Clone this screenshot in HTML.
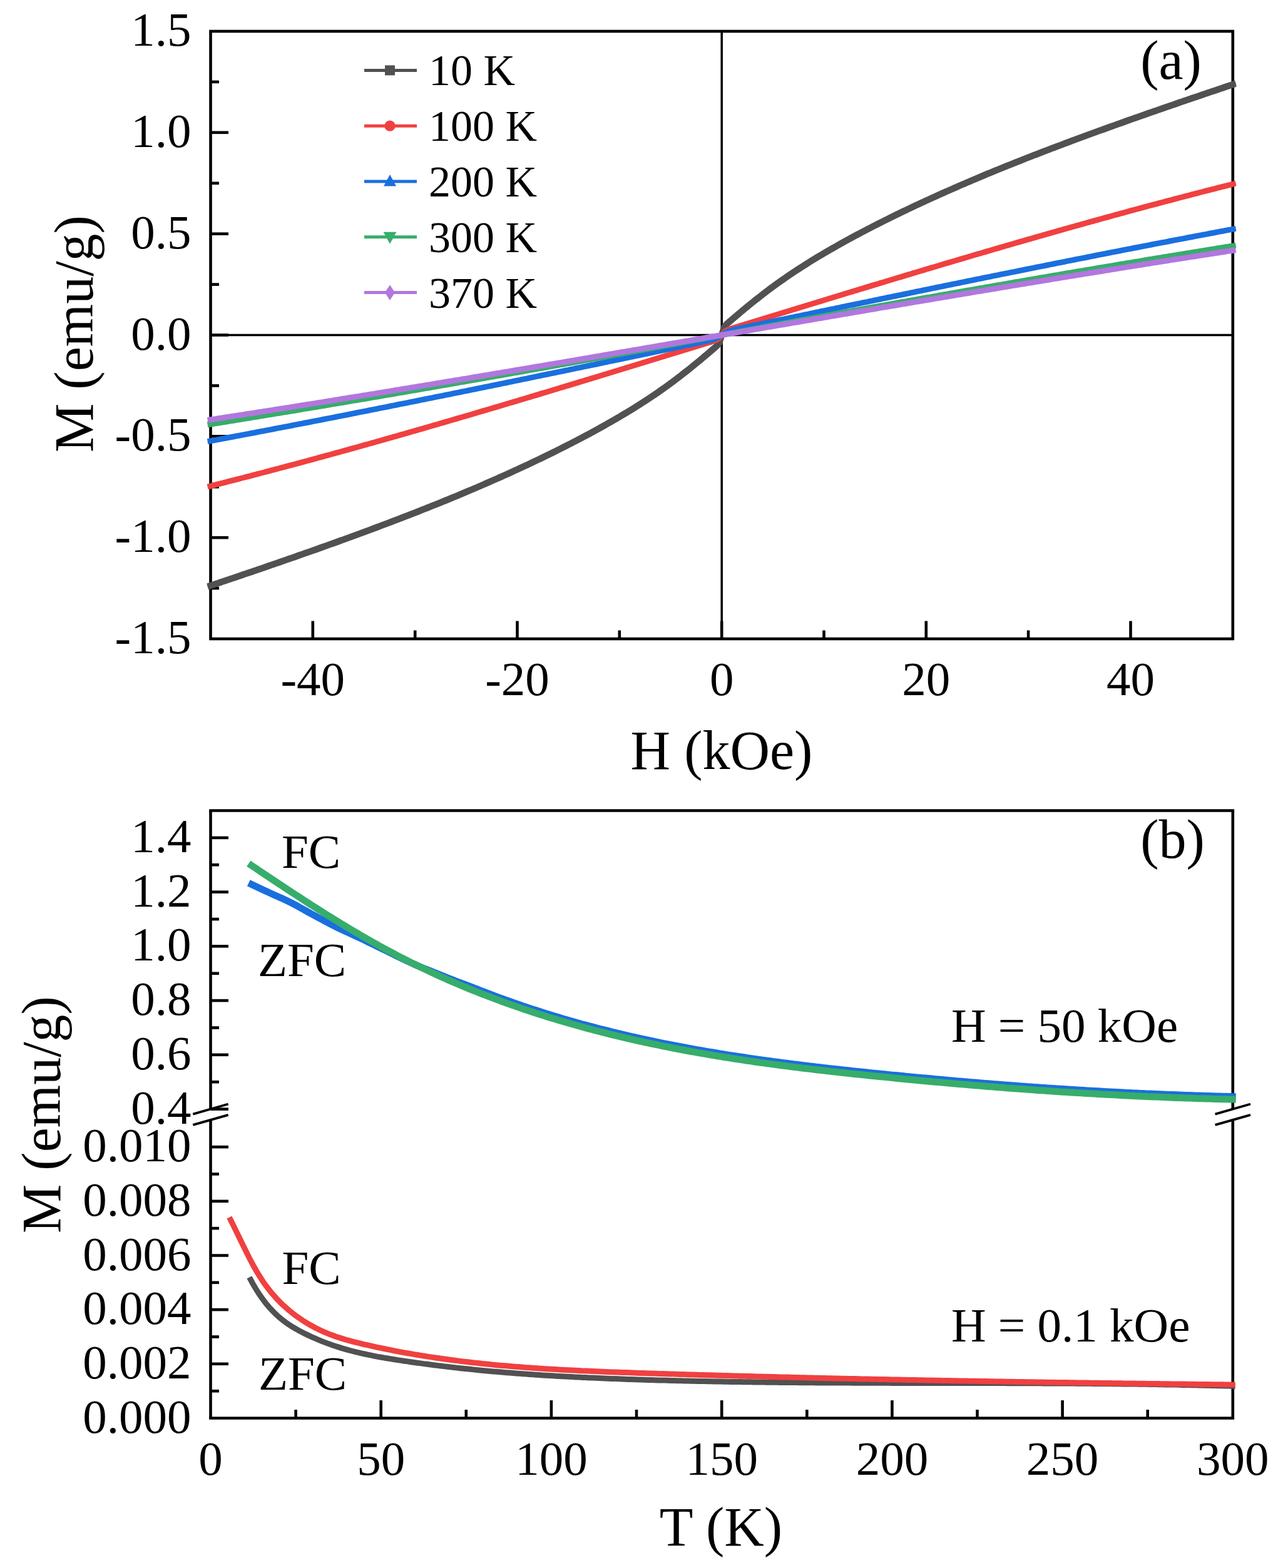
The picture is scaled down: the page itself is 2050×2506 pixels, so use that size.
<!DOCTYPE html>
<html><head><meta charset="utf-8"><title>Magnetization plots</title>
<style>html,body{margin:0;padding:0;background:#fff;}svg{display:block;}</style>
</head><body>
<svg width="2050" height="2506" viewBox="0 0 2050 2506" font-family="'Liberation Serif','Times New Roman',serif">
<rect width="100%" height="100%" fill="#ffffff"/>
<line x1="336.5" y1="535.5" x2="1969.8" y2="535.5" stroke="#000" stroke-width="3.5"/>
<line x1="1153.2" y1="50" x2="1153.2" y2="1021" stroke="#000" stroke-width="3.5"/>
<rect x="336.5" y="50" width="1633.3" height="971" fill="none" stroke="#000" stroke-width="4.6"/>
<line x1="336.5" y1="940.1" x2="350" y2="940.1" stroke="#000" stroke-width="4.6"/>
<line x1="336.5" y1="859.2" x2="365" y2="859.2" stroke="#000" stroke-width="4.6"/>
<line x1="336.5" y1="778.2" x2="350" y2="778.2" stroke="#000" stroke-width="4.6"/>
<line x1="336.5" y1="697.3" x2="365" y2="697.3" stroke="#000" stroke-width="4.6"/>
<line x1="336.5" y1="616.4" x2="350" y2="616.4" stroke="#000" stroke-width="4.6"/>
<line x1="336.5" y1="535.5" x2="365" y2="535.5" stroke="#000" stroke-width="4.6"/>
<line x1="336.5" y1="454.6" x2="350" y2="454.6" stroke="#000" stroke-width="4.6"/>
<line x1="336.5" y1="373.7" x2="365" y2="373.7" stroke="#000" stroke-width="4.6"/>
<line x1="336.5" y1="292.8" x2="350" y2="292.8" stroke="#000" stroke-width="4.6"/>
<line x1="336.5" y1="211.8" x2="365" y2="211.8" stroke="#000" stroke-width="4.6"/>
<line x1="336.5" y1="130.9" x2="350" y2="130.9" stroke="#000" stroke-width="4.6"/>
<line x1="499.8" y1="1021" x2="499.8" y2="992.5" stroke="#000" stroke-width="4.6"/>
<line x1="663.2" y1="1021" x2="663.2" y2="1007.5" stroke="#000" stroke-width="4.6"/>
<line x1="826.5" y1="1021" x2="826.5" y2="992.5" stroke="#000" stroke-width="4.6"/>
<line x1="989.8" y1="1021" x2="989.8" y2="1007.5" stroke="#000" stroke-width="4.6"/>
<line x1="1153.2" y1="1021" x2="1153.2" y2="992.5" stroke="#000" stroke-width="4.6"/>
<line x1="1316.5" y1="1021" x2="1316.5" y2="1007.5" stroke="#000" stroke-width="4.6"/>
<line x1="1479.8" y1="1021" x2="1479.8" y2="992.5" stroke="#000" stroke-width="4.6"/>
<line x1="1643.1" y1="1021" x2="1643.1" y2="1007.5" stroke="#000" stroke-width="4.6"/>
<line x1="1806.5" y1="1021" x2="1806.5" y2="992.5" stroke="#000" stroke-width="4.6"/>
<text x="305.5" y="73" font-size="77" text-anchor="end">1.5</text>
<text x="305.5" y="234.8" font-size="77" text-anchor="end">1.0</text>
<text x="305.5" y="396.7" font-size="77" text-anchor="end">0.5</text>
<text x="305.5" y="558.5" font-size="77" text-anchor="end">0.0</text>
<text x="305.5" y="720.3" font-size="77" text-anchor="end">-0.5</text>
<text x="305.5" y="882.2" font-size="77" text-anchor="end">-1.0</text>
<text x="305.5" y="1044" font-size="77" text-anchor="end">-1.5</text>
<text x="499.8" y="1110.5" font-size="77" text-anchor="middle">-40</text>
<text x="826.5" y="1110.5" font-size="77" text-anchor="middle">-20</text>
<text x="1153.2" y="1110.5" font-size="77" text-anchor="middle">0</text>
<text x="1479.8" y="1110.5" font-size="77" text-anchor="middle">20</text>
<text x="1806.5" y="1110.5" font-size="77" text-anchor="middle">40</text>
<text x="1153" y="1229" font-size="88" text-anchor="middle">H (kOe)</text>
<text transform="translate(147.8,533.5) rotate(-90)" font-size="88" text-anchor="middle">M (emu/g)</text>
<text x="1871" y="125.5" font-size="88" text-anchor="middle">(a)</text>
<line x1="582" y1="112.4" x2="666" y2="112.4" stroke="#515151" stroke-width="5"/>
<rect x="615" y="104.4" width="16" height="16" fill="#515151"/>
<text x="685" y="136.4" font-size="70">10 K</text>
<line x1="582" y1="201.2" x2="666" y2="201.2" stroke="#F14040" stroke-width="5"/>
<circle cx="623" cy="201.2" r="8.6" fill="#F14040"/>
<text x="685" y="225.2" font-size="70">100 K</text>
<line x1="582" y1="290" x2="666" y2="290" stroke="#1A6FDF" stroke-width="5"/>
<polygon points="623,279 613,297.5 633,297.5" fill="#1A6FDF"/>
<text x="685" y="314" font-size="70">200 K</text>
<line x1="582" y1="378.8" x2="666" y2="378.8" stroke="#37AD6B" stroke-width="5"/>
<polygon points="623,389.8 612.5,370.8 633.5,370.8" fill="#37AD6B"/>
<text x="685" y="402.8" font-size="70">300 K</text>
<line x1="582" y1="467.6" x2="666" y2="467.6" stroke="#B177DE" stroke-width="5"/>
<polygon points="623,455.2 631,467.6 623,480 615,467.6" fill="#B177DE"/>
<text x="685" y="491.6" font-size="70">370 K</text>
<g clip-path="url(#clipa)">
<polyline fill="none" stroke="#515151" stroke-width="10.5" stroke-linejoin="round" points="331.6,937.6 335.7,936.3 339.8,934.9 343.9,933.5 347.9,932.2 352,930.8 356.1,929.4 360.2,928 364.3,926.6 368.4,925.3 372.5,923.9 376.6,922.5 380.6,921.1 384.7,919.7 388.8,918.3 392.9,916.9 397,915.5 401.1,914.2 405.2,912.8 409.3,911.4 413.3,910 417.4,908.6 421.5,907.2 425.6,905.8 429.7,904.3 433.8,902.9 437.9,901.5 442,900.1 446,898.7 450.1,897.3 454.2,895.9 458.3,894.4 462.4,893 466.5,891.6 470.6,890.2 474.7,888.7 478.7,887.3 482.8,885.9 486.9,884.4 491,883 495.1,881.6 499.2,880.1 503.3,878.7 507.4,877.2 511.4,875.8 515.5,874.3 519.6,872.9 523.7,871.4 527.8,869.9 531.9,868.5 536,867 540.1,865.5 544.1,864 548.2,862.6 552.3,861.1 556.4,859.6 560.5,858.1 564.6,856.6 568.7,855.1 572.8,853.6 576.8,852.1 580.9,850.6 585,849.1 589.1,847.6 593.2,846.1 597.3,844.5 601.4,843 605.5,841.5 609.5,839.9 613.6,838.4 617.7,836.9 621.8,835.3 625.9,833.8 630,832.2 634.1,830.6 638.1,829.1 642.2,827.5 646.3,825.9 650.4,824.3 654.5,822.8 658.6,821.2 662.7,819.6 666.8,818 670.8,816.4 674.9,814.7 679,813.1 683.1,811.5 687.2,809.9 691.3,808.2 695.4,806.6 699.5,805 703.5,803.3 707.6,801.6 711.7,800 715.8,798.3 719.9,796.6 724,794.9 728.1,793.3 732.2,791.6 736.2,789.9 740.3,788.1 744.4,786.4 748.5,784.7 752.6,783 756.7,781.2 760.8,779.5 764.9,777.7 768.9,776 773,774.2 777.1,772.4 781.2,770.6 785.3,768.8 789.4,767 793.5,765.2 797.6,763.4 801.6,761.6 805.7,759.8 809.8,757.9 813.9,756.1 818,754.2 822.1,752.3 826.2,750.5 830.3,748.6 834.3,746.7 838.4,744.8 842.5,742.9 846.6,741 850.7,739 854.8,737.1 858.9,735.1 863,733.2 867,731.2 871.1,729.2 875.2,727.2 879.3,725.2 883.4,723.2 887.5,721.2 891.6,719.1 895.6,717.1 899.7,715 903.8,713 907.9,710.9 912,708.8 916.1,706.7 920.2,704.6 924.3,702.4 928.3,700.3 932.4,698.1 936.5,696 940.6,693.8 944.7,691.6 948.8,689.3 952.9,687.1 957,684.9 961,682.6 965.1,680.3 969.2,678 973.3,675.7 977.4,673.4 981.5,671 985.6,668.6 989.7,666.2 993.7,663.8 997.8,661.4 1001.9,658.9 1006,656.4 1010.1,653.9 1014.2,651.4 1018.3,648.8 1022.4,646.2 1026.4,643.6 1030.5,641 1034.6,638.3 1038.7,635.6 1042.8,632.9 1046.9,630.1 1051,627.3 1055.1,624.4 1059.1,621.6 1063.2,618.7 1067.3,615.7 1071.4,612.7 1075.5,609.7 1079.6,606.6 1083.7,603.5 1087.8,600.4 1091.8,597.2 1095.9,594 1100,590.8 1104.1,587.5 1108.2,584.2 1112.3,580.8 1116.4,577.5 1120.5,574.1 1124.5,570.6 1128.6,567.2 1132.7,563.7 1136.8,560.2 1140.9,556.7 1145,553.1 1149.1,548.1 1153.2,535.5 1157.2,522.9 1161.3,517.9 1165.4,514.3 1169.5,510.8 1173.6,507.3 1177.7,503.8 1181.8,500.4 1185.8,496.9 1189.9,493.5 1194,490.2 1198.1,486.8 1202.2,483.5 1206.3,480.2 1210.4,477 1214.5,473.8 1218.5,470.6 1222.6,467.5 1226.7,464.4 1230.8,461.3 1234.9,458.3 1239,455.3 1243.1,452.3 1247.2,449.4 1251.2,446.6 1255.3,443.7 1259.4,440.9 1263.5,438.1 1267.6,435.4 1271.7,432.7 1275.8,430 1279.9,427.4 1283.9,424.8 1288,422.2 1292.1,419.6 1296.2,417.1 1300.3,414.6 1304.4,412.1 1308.5,409.6 1312.6,407.2 1316.6,404.8 1320.7,402.4 1324.8,400 1328.9,397.6 1333,395.3 1337.1,393 1341.2,390.7 1345.3,388.4 1349.3,386.1 1353.4,383.9 1357.5,381.7 1361.6,379.4 1365.7,377.2 1369.8,375 1373.9,372.9 1378,370.7 1382,368.6 1386.1,366.4 1390.2,364.3 1394.3,362.2 1398.4,360.1 1402.5,358 1406.6,356 1410.7,353.9 1414.7,351.9 1418.8,349.8 1422.9,347.8 1427,345.8 1431.1,343.8 1435.2,341.8 1439.3,339.8 1443.3,337.8 1447.4,335.9 1451.5,333.9 1455.6,332 1459.7,330 1463.8,328.1 1467.9,326.2 1472,324.3 1476,322.4 1480.1,320.5 1484.2,318.7 1488.3,316.8 1492.4,314.9 1496.5,313.1 1500.6,311.2 1504.7,309.4 1508.7,307.6 1512.8,305.8 1516.9,304 1521,302.2 1525.1,300.4 1529.2,298.6 1533.3,296.8 1537.4,295 1541.4,293.3 1545.5,291.5 1549.6,289.8 1553.7,288 1557.8,286.3 1561.9,284.6 1566,282.9 1570.1,281.1 1574.1,279.4 1578.2,277.7 1582.3,276.1 1586.4,274.4 1590.5,272.7 1594.6,271 1598.7,269.4 1602.8,267.7 1606.8,266 1610.9,264.4 1615,262.8 1619.1,261.1 1623.2,259.5 1627.3,257.9 1631.4,256.3 1635.5,254.6 1639.5,253 1643.6,251.4 1647.7,249.8 1651.8,248.2 1655.9,246.7 1660,245.1 1664.1,243.5 1668.2,241.9 1672.2,240.4 1676.3,238.8 1680.4,237.2 1684.5,235.7 1688.6,234.1 1692.7,232.6 1696.8,231.1 1700.8,229.5 1704.9,228 1709,226.5 1713.1,224.9 1717.2,223.4 1721.3,221.9 1725.4,220.4 1729.5,218.9 1733.5,217.4 1737.6,215.9 1741.7,214.4 1745.8,212.9 1749.9,211.4 1754,209.9 1758.1,208.4 1762.2,207 1766.2,205.5 1770.3,204 1774.4,202.5 1778.5,201.1 1782.6,199.6 1786.7,198.1 1790.8,196.7 1794.9,195.2 1798.9,193.8 1803,192.3 1807.1,190.9 1811.2,189.4 1815.3,188 1819.4,186.6 1823.5,185.1 1827.6,183.7 1831.6,182.3 1835.7,180.8 1839.8,179.4 1843.9,178 1848,176.6 1852.1,175.1 1856.2,173.7 1860.3,172.3 1864.3,170.9 1868.4,169.5 1872.5,168.1 1876.6,166.7 1880.7,165.2 1884.8,163.8 1888.9,162.4 1893,161 1897,159.6 1901.1,158.2 1905.2,156.8 1909.3,155.5 1913.4,154.1 1917.5,152.7 1921.6,151.3 1925.7,149.9 1929.7,148.5 1933.8,147.1 1937.9,145.7 1942,144.4 1946.1,143 1950.2,141.6 1954.3,140.2 1958.4,138.8 1962.4,137.5 1966.5,136.1 1970.6,134.7 1974.7,133.4"/>
<polyline fill="none" stroke="#F14040" stroke-width="9" stroke-linejoin="round" points="331.6,778 335.7,777 339.8,775.9 343.9,774.9 347.9,773.9 352,772.8 356.1,771.8 360.2,770.8 364.3,769.7 368.4,768.7 372.5,767.7 376.6,766.6 380.6,765.6 384.7,764.5 388.8,763.5 392.9,762.4 397,761.3 401.1,760.3 405.2,759.2 409.3,758.2 413.3,757.1 417.4,756 421.5,755 425.6,753.9 429.7,752.8 433.8,751.7 437.9,750.7 442,749.6 446,748.5 450.1,747.4 454.2,746.3 458.3,745.2 462.4,744.2 466.5,743.1 470.6,742 474.7,740.9 478.7,739.8 482.8,738.7 486.9,737.6 491,736.5 495.1,735.4 499.2,734.3 503.3,733.2 507.4,732 511.4,730.9 515.5,729.8 519.6,728.7 523.7,727.6 527.8,726.5 531.9,725.3 536,724.2 540.1,723.1 544.1,722 548.2,720.8 552.3,719.7 556.4,718.6 560.5,717.4 564.6,716.3 568.7,715.2 572.8,714 576.8,712.9 580.9,711.7 585,710.6 589.1,709.5 593.2,708.3 597.3,707.2 601.4,706 605.5,704.9 609.5,703.7 613.6,702.6 617.7,701.4 621.8,700.2 625.9,699.1 630,697.9 634.1,696.8 638.1,695.6 642.2,694.4 646.3,693.3 650.4,692.1 654.5,690.9 658.6,689.7 662.7,688.6 666.8,687.4 670.8,686.2 674.9,685.1 679,683.9 683.1,682.7 687.2,681.5 691.3,680.3 695.4,679.1 699.5,678 703.5,676.8 707.6,675.6 711.7,674.4 715.8,673.2 719.9,672 724,670.8 728.1,669.6 732.2,668.4 736.2,667.2 740.3,666 744.4,664.9 748.5,663.7 752.6,662.5 756.7,661.2 760.8,660 764.9,658.8 768.9,657.6 773,656.4 777.1,655.2 781.2,654 785.3,652.8 789.4,651.6 793.5,650.4 797.6,649.2 801.6,648 805.7,646.7 809.8,645.5 813.9,644.3 818,643.1 822.1,641.9 826.2,640.7 830.3,639.4 834.3,638.2 838.4,637 842.5,635.8 846.6,634.6 850.7,633.3 854.8,632.1 858.9,630.9 863,629.6 867,628.4 871.1,627.2 875.2,626 879.3,624.7 883.4,623.5 887.5,622.3 891.6,621 895.6,619.8 899.7,618.6 903.8,617.3 907.9,616.1 912,614.9 916.1,613.6 920.2,612.4 924.3,611.1 928.3,609.9 932.4,608.7 936.5,607.4 940.6,606.2 944.7,604.9 948.8,603.7 952.9,602.5 957,601.2 961,600 965.1,598.7 969.2,597.5 973.3,596.2 977.4,595 981.5,593.7 985.6,592.5 989.7,591.3 993.7,590 997.8,588.8 1001.9,587.5 1006,586.3 1010.1,585 1014.2,583.8 1018.3,582.5 1022.4,581.3 1026.4,580 1030.5,578.8 1034.6,577.5 1038.7,576.3 1042.8,575 1046.9,573.7 1051,572.5 1055.1,571.2 1059.1,570 1063.2,568.7 1067.3,567.5 1071.4,566.2 1075.5,565 1079.6,563.7 1083.7,562.5 1087.8,561.2 1091.8,559.9 1095.9,558.7 1100,557.4 1104.1,556.2 1108.2,554.9 1112.3,553.7 1116.4,552.4 1120.5,551.2 1124.5,549.9 1128.6,548.6 1132.7,547.4 1136.8,546.1 1140.9,544.8 1145,543.2 1149.1,540.6 1153.2,535.5 1157.2,530.4 1161.3,527.8 1165.4,526.2 1169.5,524.9 1173.6,523.6 1177.7,522.4 1181.8,521.1 1185.8,519.8 1189.9,518.6 1194,517.3 1198.1,516.1 1202.2,514.8 1206.3,513.6 1210.4,512.3 1214.5,511.1 1218.5,509.8 1222.6,508.5 1226.7,507.3 1230.8,506 1234.9,504.8 1239,503.5 1243.1,502.3 1247.2,501 1251.2,499.8 1255.3,498.5 1259.4,497.3 1263.5,496 1267.6,494.7 1271.7,493.5 1275.8,492.2 1279.9,491 1283.9,489.7 1288,488.5 1292.1,487.2 1296.2,486 1300.3,484.7 1304.4,483.5 1308.5,482.2 1312.6,481 1316.6,479.7 1320.7,478.5 1324.8,477.3 1328.9,476 1333,474.8 1337.1,473.5 1341.2,472.3 1345.3,471 1349.3,469.8 1353.4,468.5 1357.5,467.3 1361.6,466.1 1365.7,464.8 1369.8,463.6 1373.9,462.3 1378,461.1 1382,459.9 1386.1,458.6 1390.2,457.4 1394.3,456.1 1398.4,454.9 1402.5,453.7 1406.6,452.4 1410.7,451.2 1414.7,450 1418.8,448.7 1422.9,447.5 1427,446.3 1431.1,445 1435.2,443.8 1439.3,442.6 1443.3,441.4 1447.4,440.1 1451.5,438.9 1455.6,437.7 1459.7,436.4 1463.8,435.2 1467.9,434 1472,432.8 1476,431.6 1480.1,430.3 1484.2,429.1 1488.3,427.9 1492.4,426.7 1496.5,425.5 1500.6,424.3 1504.7,423 1508.7,421.8 1512.8,420.6 1516.9,419.4 1521,418.2 1525.1,417 1529.2,415.8 1533.3,414.6 1537.4,413.4 1541.4,412.2 1545.5,411 1549.6,409.8 1553.7,408.5 1557.8,407.3 1561.9,406.1 1566,405 1570.1,403.8 1574.1,402.6 1578.2,401.4 1582.3,400.2 1586.4,399 1590.5,397.8 1594.6,396.6 1598.7,395.4 1602.8,394.2 1606.8,393 1610.9,391.9 1615,390.7 1619.1,389.5 1623.2,388.3 1627.3,387.1 1631.4,385.9 1635.5,384.8 1639.5,383.6 1643.6,382.4 1647.7,381.3 1651.8,380.1 1655.9,378.9 1660,377.7 1664.1,376.6 1668.2,375.4 1672.2,374.2 1676.3,373.1 1680.4,371.9 1684.5,370.8 1688.6,369.6 1692.7,368.4 1696.8,367.3 1700.8,366.1 1704.9,365 1709,363.8 1713.1,362.7 1717.2,361.5 1721.3,360.4 1725.4,359.3 1729.5,358.1 1733.5,357 1737.6,355.8 1741.7,354.7 1745.8,353.6 1749.9,352.4 1754,351.3 1758.1,350.2 1762.2,349 1766.2,347.9 1770.3,346.8 1774.4,345.7 1778.5,344.5 1782.6,343.4 1786.7,342.3 1790.8,341.2 1794.9,340.1 1798.9,339 1803,337.8 1807.1,336.7 1811.2,335.6 1815.3,334.5 1819.4,333.4 1823.5,332.3 1827.6,331.2 1831.6,330.1 1835.7,329 1839.8,327.9 1843.9,326.8 1848,325.8 1852.1,324.7 1856.2,323.6 1860.3,322.5 1864.3,321.4 1868.4,320.3 1872.5,319.3 1876.6,318.2 1880.7,317.1 1884.8,316 1888.9,315 1893,313.9 1897,312.8 1901.1,311.8 1905.2,310.7 1909.3,309.7 1913.4,308.6 1917.5,307.5 1921.6,306.5 1925.7,305.4 1929.7,304.4 1933.8,303.3 1937.9,302.3 1942,301.3 1946.1,300.2 1950.2,299.2 1954.3,298.2 1958.4,297.1 1962.4,296.1 1966.5,295.1 1970.6,294 1974.7,293"/>
<polyline fill="none" stroke="#1A6FDF" stroke-width="9" stroke-linejoin="round" points="331.6,705.6 335.7,704.9 339.8,704.1 343.9,703.4 347.9,702.6 352,701.8 356.1,701.1 360.2,700.3 364.3,699.5 368.4,698.7 372.5,698 376.6,697.2 380.6,696.4 384.7,695.7 388.8,694.9 392.9,694.1 397,693.3 401.1,692.5 405.2,691.8 409.3,691 413.3,690.2 417.4,689.4 421.5,688.7 425.6,687.9 429.7,687.1 433.8,686.3 437.9,685.5 442,684.7 446,683.9 450.1,683.2 454.2,682.4 458.3,681.6 462.4,680.8 466.5,680 470.6,679.2 474.7,678.4 478.7,677.6 482.8,676.8 486.9,676 491,675.3 495.1,674.5 499.2,673.7 503.3,672.9 507.4,672.1 511.4,671.3 515.5,670.5 519.6,669.7 523.7,668.9 527.8,668.1 531.9,667.3 536,666.5 540.1,665.7 544.1,664.9 548.2,664.1 552.3,663.3 556.4,662.5 560.5,661.6 564.6,660.8 568.7,660 572.8,659.2 576.8,658.4 580.9,657.6 585,656.8 589.1,656 593.2,655.2 597.3,654.4 601.4,653.6 605.5,652.7 609.5,651.9 613.6,651.1 617.7,650.3 621.8,649.5 625.9,648.7 630,647.9 634.1,647 638.1,646.2 642.2,645.4 646.3,644.6 650.4,643.8 654.5,642.9 658.6,642.1 662.7,641.3 666.8,640.5 670.8,639.7 674.9,638.8 679,638 683.1,637.2 687.2,636.4 691.3,635.6 695.4,634.7 699.5,633.9 703.5,633.1 707.6,632.3 711.7,631.4 715.8,630.6 719.9,629.8 724,628.9 728.1,628.1 732.2,627.3 736.2,626.5 740.3,625.6 744.4,624.8 748.5,624 752.6,623.1 756.7,622.3 760.8,621.5 764.9,620.6 768.9,619.8 773,619 777.1,618.1 781.2,617.3 785.3,616.5 789.4,615.6 793.5,614.8 797.6,614 801.6,613.1 805.7,612.3 809.8,611.5 813.9,610.6 818,609.8 822.1,608.9 826.2,608.1 830.3,607.3 834.3,606.4 838.4,605.6 842.5,604.8 846.6,603.9 850.7,603.1 854.8,602.2 858.9,601.4 863,600.5 867,599.7 871.1,598.9 875.2,598 879.3,597.2 883.4,596.3 887.5,595.5 891.6,594.7 895.6,593.8 899.7,593 903.8,592.1 907.9,591.3 912,590.4 916.1,589.6 920.2,588.7 924.3,587.9 928.3,587.1 932.4,586.2 936.5,585.4 940.6,584.5 944.7,583.7 948.8,582.8 952.9,582 957,581.1 961,580.3 965.1,579.4 969.2,578.6 973.3,577.7 977.4,576.9 981.5,576 985.6,575.2 989.7,574.3 993.7,573.5 997.8,572.6 1001.9,571.8 1006,570.9 1010.1,570.1 1014.2,569.2 1018.3,568.4 1022.4,567.5 1026.4,566.7 1030.5,565.8 1034.6,565 1038.7,564.1 1042.8,563.3 1046.9,562.4 1051,561.6 1055.1,560.7 1059.1,559.9 1063.2,559 1067.3,558.2 1071.4,557.3 1075.5,556.5 1079.6,555.6 1083.7,554.8 1087.8,553.9 1091.8,553.1 1095.9,552.2 1100,551.4 1104.1,550.5 1108.2,549.7 1112.3,548.8 1116.4,548 1120.5,547.1 1124.5,546.2 1128.6,545.3 1132.7,544.4 1136.8,543.3 1140.9,542.1 1145,540.4 1149.1,538.2 1153.2,535.5 1157.2,532.8 1161.3,530.6 1165.4,528.9 1169.5,527.7 1173.6,526.6 1177.7,525.7 1181.8,524.8 1185.8,523.9 1189.9,523 1194,522.2 1198.1,521.3 1202.2,520.5 1206.3,519.6 1210.4,518.8 1214.5,517.9 1218.5,517.1 1222.6,516.2 1226.7,515.4 1230.8,514.5 1234.9,513.7 1239,512.8 1243.1,512 1247.2,511.1 1251.2,510.3 1255.3,509.4 1259.4,508.6 1263.5,507.7 1267.6,506.9 1271.7,506 1275.8,505.2 1279.9,504.3 1283.9,503.5 1288,502.6 1292.1,501.8 1296.2,500.9 1300.3,500.1 1304.4,499.2 1308.5,498.4 1312.6,497.5 1316.6,496.7 1320.7,495.8 1324.8,495 1328.9,494.1 1333,493.3 1337.1,492.4 1341.2,491.6 1345.3,490.7 1349.3,489.9 1353.4,489 1357.5,488.2 1361.6,487.3 1365.7,486.5 1369.8,485.6 1373.9,484.8 1378,483.9 1382,483.1 1386.1,482.3 1390.2,481.4 1394.3,480.6 1398.4,479.7 1402.5,478.9 1406.6,478 1410.7,477.2 1414.7,476.3 1418.8,475.5 1422.9,474.7 1427,473.8 1431.1,473 1435.2,472.1 1439.3,471.3 1443.3,470.5 1447.4,469.6 1451.5,468.8 1455.6,467.9 1459.7,467.1 1463.8,466.2 1467.9,465.4 1472,464.6 1476,463.7 1480.1,462.9 1484.2,462.1 1488.3,461.2 1492.4,460.4 1496.5,459.5 1500.6,458.7 1504.7,457.9 1508.7,457 1512.8,456.2 1516.9,455.4 1521,454.5 1525.1,453.7 1529.2,452.9 1533.3,452 1537.4,451.2 1541.4,450.4 1545.5,449.5 1549.6,448.7 1553.7,447.9 1557.8,447 1561.9,446.2 1566,445.4 1570.1,444.5 1574.1,443.7 1578.2,442.9 1582.3,442.1 1586.4,441.2 1590.5,440.4 1594.6,439.6 1598.7,438.7 1602.8,437.9 1606.8,437.1 1610.9,436.3 1615,435.4 1619.1,434.6 1623.2,433.8 1627.3,433 1631.4,432.2 1635.5,431.3 1639.5,430.5 1643.6,429.7 1647.7,428.9 1651.8,428.1 1655.9,427.2 1660,426.4 1664.1,425.6 1668.2,424.8 1672.2,424 1676.3,423.1 1680.4,422.3 1684.5,421.5 1688.6,420.7 1692.7,419.9 1696.8,419.1 1700.8,418.3 1704.9,417.4 1709,416.6 1713.1,415.8 1717.2,415 1721.3,414.2 1725.4,413.4 1729.5,412.6 1733.5,411.8 1737.6,411 1741.7,410.2 1745.8,409.4 1749.9,408.5 1754,407.7 1758.1,406.9 1762.2,406.1 1766.2,405.3 1770.3,404.5 1774.4,403.7 1778.5,402.9 1782.6,402.1 1786.7,401.3 1790.8,400.5 1794.9,399.7 1798.9,398.9 1803,398.1 1807.1,397.3 1811.2,396.5 1815.3,395.7 1819.4,395 1823.5,394.2 1827.6,393.4 1831.6,392.6 1835.7,391.8 1839.8,391 1843.9,390.2 1848,389.4 1852.1,388.6 1856.2,387.8 1860.3,387.1 1864.3,386.3 1868.4,385.5 1872.5,384.7 1876.6,383.9 1880.7,383.1 1884.8,382.3 1888.9,381.6 1893,380.8 1897,380 1901.1,379.2 1905.2,378.5 1909.3,377.7 1913.4,376.9 1917.5,376.1 1921.6,375.3 1925.7,374.6 1929.7,373.8 1933.8,373 1937.9,372.3 1942,371.5 1946.1,370.7 1950.2,369.9 1954.3,369.2 1958.4,368.4 1962.4,367.6 1966.5,366.9 1970.6,366.1 1974.7,365.4"/>
<polyline fill="none" stroke="#37AD6B" stroke-width="9" stroke-linejoin="round" points="331.6,678.8 335.7,678.1 339.8,677.5 343.9,676.8 347.9,676.2 352,675.5 356.1,674.9 360.2,674.2 364.3,673.5 368.4,672.9 372.5,672.2 376.6,671.6 380.6,670.9 384.7,670.2 388.8,669.6 392.9,668.9 397,668.2 401.1,667.6 405.2,666.9 409.3,666.3 413.3,665.6 417.4,664.9 421.5,664.2 425.6,663.6 429.7,662.9 433.8,662.2 437.9,661.6 442,660.9 446,660.2 450.1,659.5 454.2,658.9 458.3,658.2 462.4,657.5 466.5,656.8 470.6,656.2 474.7,655.5 478.7,654.8 482.8,654.1 486.9,653.4 491,652.8 495.1,652.1 499.2,651.4 503.3,650.7 507.4,650 511.4,649.4 515.5,648.7 519.6,648 523.7,647.3 527.8,646.6 531.9,645.9 536,645.2 540.1,644.6 544.1,643.9 548.2,643.2 552.3,642.5 556.4,641.8 560.5,641.1 564.6,640.4 568.7,639.7 572.8,639 576.8,638.3 580.9,637.7 585,637 589.1,636.3 593.2,635.6 597.3,634.9 601.4,634.2 605.5,633.5 609.5,632.8 613.6,632.1 617.7,631.4 621.8,630.7 625.9,630 630,629.3 634.1,628.6 638.1,627.9 642.2,627.2 646.3,626.5 650.4,625.8 654.5,625.1 658.6,624.4 662.7,623.7 666.8,623 670.8,622.3 674.9,621.6 679,620.9 683.1,620.2 687.2,619.5 691.3,618.7 695.4,618 699.5,617.3 703.5,616.6 707.6,615.9 711.7,615.2 715.8,614.5 719.9,613.8 724,613.1 728.1,612.4 732.2,611.7 736.2,610.9 740.3,610.2 744.4,609.5 748.5,608.8 752.6,608.1 756.7,607.4 760.8,606.7 764.9,606 768.9,605.2 773,604.5 777.1,603.8 781.2,603.1 785.3,602.4 789.4,601.7 793.5,600.9 797.6,600.2 801.6,599.5 805.7,598.8 809.8,598.1 813.9,597.4 818,596.6 822.1,595.9 826.2,595.2 830.3,594.5 834.3,593.8 838.4,593 842.5,592.3 846.6,591.6 850.7,590.9 854.8,590.2 858.9,589.4 863,588.7 867,588 871.1,587.3 875.2,586.5 879.3,585.8 883.4,585.1 887.5,584.4 891.6,583.6 895.6,582.9 899.7,582.2 903.8,581.5 907.9,580.7 912,580 916.1,579.3 920.2,578.6 924.3,577.8 928.3,577.1 932.4,576.4 936.5,575.6 940.6,574.9 944.7,574.2 948.8,573.4 952.9,572.7 957,572 961,571.2 965.1,570.5 969.2,569.8 973.3,569 977.4,568.3 981.5,567.6 985.6,566.8 989.7,566.1 993.7,565.3 997.8,564.6 1001.9,563.9 1006,563.1 1010.1,562.4 1014.2,561.6 1018.3,560.9 1022.4,560.1 1026.4,559.4 1030.5,558.6 1034.6,557.9 1038.7,557.1 1042.8,556.4 1046.9,555.6 1051,554.9 1055.1,554.1 1059.1,553.4 1063.2,552.6 1067.3,551.8 1071.4,551.1 1075.5,550.3 1079.6,549.5 1083.7,548.8 1087.8,548 1091.8,547.2 1095.9,546.4 1100,545.7 1104.1,544.9 1108.2,544.1 1112.3,543.3 1116.4,542.6 1120.5,541.8 1124.5,541 1128.6,540.2 1132.7,539.4 1136.8,538.6 1140.9,537.9 1145,537.1 1149.1,536.3 1153.2,535.5 1157.2,534.7 1161.3,533.9 1165.4,533.1 1169.5,532.4 1173.6,531.6 1177.7,530.8 1181.8,530 1185.8,529.2 1189.9,528.4 1194,527.7 1198.1,526.9 1202.2,526.1 1206.3,525.3 1210.4,524.6 1214.5,523.8 1218.5,523 1222.6,522.2 1226.7,521.5 1230.8,520.7 1234.9,519.9 1239,519.2 1243.1,518.4 1247.2,517.6 1251.2,516.9 1255.3,516.1 1259.4,515.4 1263.5,514.6 1267.6,513.9 1271.7,513.1 1275.8,512.4 1279.9,511.6 1283.9,510.9 1288,510.1 1292.1,509.4 1296.2,508.6 1300.3,507.9 1304.4,507.1 1308.5,506.4 1312.6,505.7 1316.6,504.9 1320.7,504.2 1324.8,503.4 1328.9,502.7 1333,502 1337.1,501.2 1341.2,500.5 1345.3,499.8 1349.3,499 1353.4,498.3 1357.5,497.6 1361.6,496.8 1365.7,496.1 1369.8,495.4 1373.9,494.6 1378,493.9 1382,493.2 1386.1,492.4 1390.2,491.7 1394.3,491 1398.4,490.3 1402.5,489.5 1406.6,488.8 1410.7,488.1 1414.7,487.4 1418.8,486.6 1422.9,485.9 1427,485.2 1431.1,484.5 1435.2,483.7 1439.3,483 1443.3,482.3 1447.4,481.6 1451.5,480.8 1455.6,480.1 1459.7,479.4 1463.8,478.7 1467.9,478 1472,477.2 1476,476.5 1480.1,475.8 1484.2,475.1 1488.3,474.4 1492.4,473.6 1496.5,472.9 1500.6,472.2 1504.7,471.5 1508.7,470.8 1512.8,470.1 1516.9,469.3 1521,468.6 1525.1,467.9 1529.2,467.2 1533.3,466.5 1537.4,465.8 1541.4,465 1545.5,464.3 1549.6,463.6 1553.7,462.9 1557.8,462.2 1561.9,461.5 1566,460.8 1570.1,460.1 1574.1,459.3 1578.2,458.6 1582.3,457.9 1586.4,457.2 1590.5,456.5 1594.6,455.8 1598.7,455.1 1602.8,454.4 1606.8,453.7 1610.9,453 1615,452.3 1619.1,451.5 1623.2,450.8 1627.3,450.1 1631.4,449.4 1635.5,448.7 1639.5,448 1643.6,447.3 1647.7,446.6 1651.8,445.9 1655.9,445.2 1660,444.5 1664.1,443.8 1668.2,443.1 1672.2,442.4 1676.3,441.7 1680.4,441 1684.5,440.3 1688.6,439.6 1692.7,438.9 1696.8,438.2 1700.8,437.5 1704.9,436.8 1709,436.1 1713.1,435.4 1717.2,434.7 1721.3,434 1725.4,433.3 1729.5,432.7 1733.5,432 1737.6,431.3 1741.7,430.6 1745.8,429.9 1749.9,429.2 1754,428.5 1758.1,427.8 1762.2,427.1 1766.2,426.4 1770.3,425.8 1774.4,425.1 1778.5,424.4 1782.6,423.7 1786.7,423 1790.8,422.3 1794.9,421.6 1798.9,421 1803,420.3 1807.1,419.6 1811.2,418.9 1815.3,418.2 1819.4,417.6 1823.5,416.9 1827.6,416.2 1831.6,415.5 1835.7,414.8 1839.8,414.2 1843.9,413.5 1848,412.8 1852.1,412.1 1856.2,411.5 1860.3,410.8 1864.3,410.1 1868.4,409.4 1872.5,408.8 1876.6,408.1 1880.7,407.4 1884.8,406.8 1888.9,406.1 1893,405.4 1897,404.7 1901.1,404.1 1905.2,403.4 1909.3,402.8 1913.4,402.1 1917.5,401.4 1921.6,400.8 1925.7,400.1 1929.7,399.4 1933.8,398.8 1937.9,398.1 1942,397.5 1946.1,396.8 1950.2,396.1 1954.3,395.5 1958.4,394.8 1962.4,394.2 1966.5,393.5 1970.6,392.9 1974.7,392.2"/>
<polyline fill="none" stroke="#B177DE" stroke-width="9" stroke-linejoin="round" points="331.6,671.4 335.7,670.8 339.8,670.2 343.9,669.6 347.9,668.9 352,668.3 356.1,667.7 360.2,667 364.3,666.4 368.4,665.8 372.5,665.1 376.6,664.5 380.6,663.9 384.7,663.2 388.8,662.6 392.9,662 397,661.3 401.1,660.7 405.2,660.1 409.3,659.4 413.3,658.8 417.4,658.1 421.5,657.5 425.6,656.9 429.7,656.2 433.8,655.6 437.9,654.9 442,654.3 446,653.6 450.1,653 454.2,652.4 458.3,651.7 462.4,651.1 466.5,650.4 470.6,649.8 474.7,649.1 478.7,648.5 482.8,647.8 486.9,647.2 491,646.5 495.1,645.9 499.2,645.2 503.3,644.6 507.4,643.9 511.4,643.2 515.5,642.6 519.6,641.9 523.7,641.3 527.8,640.6 531.9,640 536,639.3 540.1,638.6 544.1,638 548.2,637.3 552.3,636.7 556.4,636 560.5,635.3 564.6,634.7 568.7,634 572.8,633.4 576.8,632.7 580.9,632 585,631.4 589.1,630.7 593.2,630 597.3,629.4 601.4,628.7 605.5,628 609.5,627.4 613.6,626.7 617.7,626 621.8,625.4 625.9,624.7 630,624 634.1,623.3 638.1,622.7 642.2,622 646.3,621.3 650.4,620.7 654.5,620 658.6,619.3 662.7,618.6 666.8,618 670.8,617.3 674.9,616.6 679,615.9 683.1,615.3 687.2,614.6 691.3,613.9 695.4,613.2 699.5,612.5 703.5,611.9 707.6,611.2 711.7,610.5 715.8,609.8 719.9,609.1 724,608.5 728.1,607.8 732.2,607.1 736.2,606.4 740.3,605.7 744.4,605.1 748.5,604.4 752.6,603.7 756.7,603 760.8,602.3 764.9,601.6 768.9,601 773,600.3 777.1,599.6 781.2,598.9 785.3,598.2 789.4,597.5 793.5,596.8 797.6,596.1 801.6,595.5 805.7,594.8 809.8,594.1 813.9,593.4 818,592.7 822.1,592 826.2,591.3 830.3,590.6 834.3,589.9 838.4,589.3 842.5,588.6 846.6,587.9 850.7,587.2 854.8,586.5 858.9,585.8 863,585.1 867,584.4 871.1,583.7 875.2,583 879.3,582.3 883.4,581.6 887.5,580.9 891.6,580.3 895.6,579.6 899.7,578.9 903.8,578.2 907.9,577.5 912,576.8 916.1,576.1 920.2,575.4 924.3,574.7 928.3,574 932.4,573.3 936.5,572.6 940.6,571.9 944.7,571.2 948.8,570.5 952.9,569.8 957,569.1 961,568.4 965.1,567.7 969.2,567 973.3,566.3 977.4,565.6 981.5,564.9 985.6,564.2 989.7,563.5 993.7,562.8 997.8,562.1 1001.9,561.4 1006,560.7 1010.1,560 1014.2,559.3 1018.3,558.6 1022.4,557.9 1026.4,557.2 1030.5,556.5 1034.6,555.8 1038.7,555.1 1042.8,554.4 1046.9,553.7 1051,553 1055.1,552.3 1059.1,551.6 1063.2,550.9 1067.3,550.2 1071.4,549.5 1075.5,548.8 1079.6,548.1 1083.7,547.4 1087.8,546.7 1091.8,546 1095.9,545.3 1100,544.6 1104.1,543.9 1108.2,543.2 1112.3,542.5 1116.4,541.8 1120.5,541.1 1124.5,540.4 1128.6,539.7 1132.7,539 1136.8,538.3 1140.9,537.6 1145,536.9 1149.1,536.2 1153.2,535.5 1157.2,534.8 1161.3,534.1 1165.4,533.4 1169.5,532.7 1173.6,532 1177.7,531.3 1181.8,530.6 1185.8,529.9 1189.9,529.2 1194,528.5 1198.1,527.8 1202.2,527.1 1206.3,526.4 1210.4,525.7 1214.5,525 1218.5,524.3 1222.6,523.6 1226.7,522.9 1230.8,522.2 1234.9,521.5 1239,520.8 1243.1,520.1 1247.2,519.4 1251.2,518.7 1255.3,518 1259.4,517.3 1263.5,516.6 1267.6,515.9 1271.7,515.2 1275.8,514.5 1279.9,513.8 1283.9,513.1 1288,512.4 1292.1,511.7 1296.2,511 1300.3,510.3 1304.4,509.6 1308.5,508.9 1312.6,508.2 1316.6,507.5 1320.7,506.8 1324.8,506.1 1328.9,505.4 1333,504.7 1337.1,504 1341.2,503.3 1345.3,502.6 1349.3,501.9 1353.4,501.2 1357.5,500.5 1361.6,499.8 1365.7,499.1 1369.8,498.4 1373.9,497.7 1378,497 1382,496.3 1386.1,495.6 1390.2,494.9 1394.3,494.2 1398.4,493.5 1402.5,492.8 1406.6,492.1 1410.7,491.4 1414.7,490.7 1418.8,490.1 1422.9,489.4 1427,488.7 1431.1,488 1435.2,487.3 1439.3,486.6 1443.3,485.9 1447.4,485.2 1451.5,484.5 1455.6,483.8 1459.7,483.1 1463.8,482.4 1467.9,481.7 1472,481.1 1476,480.4 1480.1,479.7 1484.2,479 1488.3,478.3 1492.4,477.6 1496.5,476.9 1500.6,476.2 1504.7,475.5 1508.7,474.9 1512.8,474.2 1516.9,473.5 1521,472.8 1525.1,472.1 1529.2,471.4 1533.3,470.7 1537.4,470 1541.4,469.4 1545.5,468.7 1549.6,468 1553.7,467.3 1557.8,466.6 1561.9,465.9 1566,465.3 1570.1,464.6 1574.1,463.9 1578.2,463.2 1582.3,462.5 1586.4,461.9 1590.5,461.2 1594.6,460.5 1598.7,459.8 1602.8,459.1 1606.8,458.5 1610.9,457.8 1615,457.1 1619.1,456.4 1623.2,455.7 1627.3,455.1 1631.4,454.4 1635.5,453.7 1639.5,453 1643.6,452.4 1647.7,451.7 1651.8,451 1655.9,450.3 1660,449.7 1664.1,449 1668.2,448.3 1672.2,447.7 1676.3,447 1680.4,446.3 1684.5,445.6 1688.6,445 1692.7,444.3 1696.8,443.6 1700.8,443 1704.9,442.3 1709,441.6 1713.1,441 1717.2,440.3 1721.3,439.6 1725.4,439 1729.5,438.3 1733.5,437.6 1737.6,437 1741.7,436.3 1745.8,435.7 1749.9,435 1754,434.3 1758.1,433.7 1762.2,433 1766.2,432.4 1770.3,431.7 1774.4,431 1778.5,430.4 1782.6,429.7 1786.7,429.1 1790.8,428.4 1794.9,427.8 1798.9,427.1 1803,426.4 1807.1,425.8 1811.2,425.1 1815.3,424.5 1819.4,423.8 1823.5,423.2 1827.6,422.5 1831.6,421.9 1835.7,421.2 1839.8,420.6 1843.9,419.9 1848,419.3 1852.1,418.6 1856.2,418 1860.3,417.4 1864.3,416.7 1868.4,416.1 1872.5,415.4 1876.6,414.8 1880.7,414.1 1884.8,413.5 1888.9,412.9 1893,412.2 1897,411.6 1901.1,410.9 1905.2,410.3 1909.3,409.7 1913.4,409 1917.5,408.4 1921.6,407.8 1925.7,407.1 1929.7,406.5 1933.8,405.9 1937.9,405.2 1942,404.6 1946.1,404 1950.2,403.3 1954.3,402.7 1958.4,402.1 1962.4,401.4 1966.5,400.8 1970.6,400.2 1974.7,399.6"/>
</g>
<line x1="334.2" y1="1295.5" x2="1972.1" y2="1295.5" stroke="#000" stroke-width="4.6"/>
<line x1="334.2" y1="2266.5" x2="1972.1" y2="2266.5" stroke="#000" stroke-width="4.6"/>
<line x1="336.5" y1="1295.5" x2="336.5" y2="1772.6" stroke="#000" stroke-width="4.6"/>
<line x1="336.5" y1="1788.7" x2="336.5" y2="2266.5" stroke="#000" stroke-width="4.6"/>
<line x1="1969.8" y1="1295.5" x2="1969.8" y2="1772.6" stroke="#000" stroke-width="4.6"/>
<line x1="1969.8" y1="1788.7" x2="1969.8" y2="2266.5" stroke="#000" stroke-width="4.6"/>
<line x1="308.3" y1="1780.6" x2="364.7" y2="1764.5" stroke="#000" stroke-width="3.8"/>
<line x1="308.3" y1="1797.9" x2="364.7" y2="1781.8" stroke="#000" stroke-width="3.8"/>
<line x1="1941.6" y1="1780.6" x2="1998" y2="1764.5" stroke="#000" stroke-width="3.8"/>
<line x1="1941.6" y1="1797.9" x2="1998" y2="1781.8" stroke="#000" stroke-width="3.8"/>
<line x1="336.5" y1="1772.6" x2="365" y2="1772.6" stroke="#000" stroke-width="4.6"/>
<line x1="336.5" y1="1729.2" x2="350" y2="1729.2" stroke="#000" stroke-width="4.6"/>
<line x1="336.5" y1="1685.8" x2="365" y2="1685.8" stroke="#000" stroke-width="4.6"/>
<line x1="336.5" y1="1642.5" x2="350" y2="1642.5" stroke="#000" stroke-width="4.6"/>
<line x1="336.5" y1="1599.1" x2="365" y2="1599.1" stroke="#000" stroke-width="4.6"/>
<line x1="336.5" y1="1555.7" x2="350" y2="1555.7" stroke="#000" stroke-width="4.6"/>
<line x1="336.5" y1="1512.3" x2="365" y2="1512.3" stroke="#000" stroke-width="4.6"/>
<line x1="336.5" y1="1469" x2="350" y2="1469" stroke="#000" stroke-width="4.6"/>
<line x1="336.5" y1="1425.6" x2="365" y2="1425.6" stroke="#000" stroke-width="4.6"/>
<line x1="336.5" y1="1382.2" x2="350" y2="1382.2" stroke="#000" stroke-width="4.6"/>
<line x1="336.5" y1="1338.9" x2="365" y2="1338.9" stroke="#000" stroke-width="4.6"/>
<line x1="336.5" y1="2223.2" x2="350" y2="2223.2" stroke="#000" stroke-width="4.6"/>
<line x1="336.5" y1="2179.8" x2="365" y2="2179.8" stroke="#000" stroke-width="4.6"/>
<line x1="336.5" y1="2136.5" x2="350" y2="2136.5" stroke="#000" stroke-width="4.6"/>
<line x1="336.5" y1="2093.1" x2="365" y2="2093.1" stroke="#000" stroke-width="4.6"/>
<line x1="336.5" y1="2049.8" x2="350" y2="2049.8" stroke="#000" stroke-width="4.6"/>
<line x1="336.5" y1="2006.5" x2="365" y2="2006.5" stroke="#000" stroke-width="4.6"/>
<line x1="336.5" y1="1963.1" x2="350" y2="1963.1" stroke="#000" stroke-width="4.6"/>
<line x1="336.5" y1="1919.8" x2="365" y2="1919.8" stroke="#000" stroke-width="4.6"/>
<line x1="336.5" y1="1876.4" x2="350" y2="1876.4" stroke="#000" stroke-width="4.6"/>
<line x1="336.5" y1="1833.1" x2="365" y2="1833.1" stroke="#000" stroke-width="4.6"/>
<line x1="472.6" y1="2266.5" x2="472.6" y2="2253" stroke="#000" stroke-width="4.6"/>
<line x1="608.7" y1="2266.5" x2="608.7" y2="2238" stroke="#000" stroke-width="4.6"/>
<line x1="744.8" y1="2266.5" x2="744.8" y2="2253" stroke="#000" stroke-width="4.6"/>
<line x1="880.9" y1="2266.5" x2="880.9" y2="2238" stroke="#000" stroke-width="4.6"/>
<line x1="1017" y1="2266.5" x2="1017" y2="2253" stroke="#000" stroke-width="4.6"/>
<line x1="1153.2" y1="2266.5" x2="1153.2" y2="2238" stroke="#000" stroke-width="4.6"/>
<line x1="1289.3" y1="2266.5" x2="1289.3" y2="2253" stroke="#000" stroke-width="4.6"/>
<line x1="1425.4" y1="2266.5" x2="1425.4" y2="2238" stroke="#000" stroke-width="4.6"/>
<line x1="1561.5" y1="2266.5" x2="1561.5" y2="2253" stroke="#000" stroke-width="4.6"/>
<line x1="1697.6" y1="2266.5" x2="1697.6" y2="2238" stroke="#000" stroke-width="4.6"/>
<line x1="1833.7" y1="2266.5" x2="1833.7" y2="2253" stroke="#000" stroke-width="4.6"/>
<text x="305.5" y="1795.6" font-size="77" text-anchor="end">0.4</text>
<text x="305.5" y="1708.8" font-size="77" text-anchor="end">0.6</text>
<text x="305.5" y="1622.1" font-size="77" text-anchor="end">0.8</text>
<text x="305.5" y="1535.3" font-size="77" text-anchor="end">1.0</text>
<text x="305.5" y="1448.6" font-size="77" text-anchor="end">1.2</text>
<text x="305.5" y="1361.9" font-size="77" text-anchor="end">1.4</text>
<text x="305.5" y="2289.5" font-size="77" text-anchor="end">0.000</text>
<text x="305.5" y="2202.8" font-size="77" text-anchor="end">0.002</text>
<text x="305.5" y="2116.1" font-size="77" text-anchor="end">0.004</text>
<text x="305.5" y="2029.5" font-size="77" text-anchor="end">0.006</text>
<text x="305.5" y="1942.8" font-size="77" text-anchor="end">0.008</text>
<text x="305.5" y="1856.1" font-size="77" text-anchor="end">0.010</text>
<text x="336.5" y="2356.5" font-size="77" text-anchor="middle">0</text>
<text x="608.7" y="2356.5" font-size="77" text-anchor="middle">50</text>
<text x="880.9" y="2356.5" font-size="77" text-anchor="middle">100</text>
<text x="1153.2" y="2356.5" font-size="77" text-anchor="middle">150</text>
<text x="1425.4" y="2356.5" font-size="77" text-anchor="middle">200</text>
<text x="1697.6" y="2356.5" font-size="77" text-anchor="middle">250</text>
<text x="1969.8" y="2356.5" font-size="77" text-anchor="middle">300</text>
<text x="1152" y="2470" font-size="88" text-anchor="middle">T (K)</text>
<text transform="translate(95.7,1781.5) rotate(-90)" font-size="88" text-anchor="middle">M (emu/g)</text>
<text x="1873.5" y="1371.4" font-size="88" text-anchor="middle">(b)</text>
<text x="450" y="1387.4" font-size="77">FC</text>
<text x="412" y="1559.8" font-size="77">ZFC</text>
<text x="450.5" y="2052.3" font-size="77">FC</text>
<text x="413" y="2220.8" font-size="77">ZFC</text>
<text x="1520" y="1664.5" font-size="77">H = 50 kOe</text>
<text x="1520" y="2144.2" font-size="77">H = 0.1 kOe</text>
<g clip-path="url(#clipb)">
<polyline fill="none" stroke="#1A6FDF" stroke-width="11" stroke-linejoin="round" points="397.3,1411.2 402.6,1413.7 407.9,1416.2 413.1,1418.7 418.4,1421.2 423.7,1423.7 429,1426.1 434.2,1428.6 439.5,1431 444.8,1433.3 450.1,1435.6 455.3,1438 460.6,1440.5 465.9,1443.1 471.2,1445.9 476.4,1448.8 481.7,1451.7 487,1454.6 492.3,1457.6 497.5,1460.5 502.8,1463.3 508.1,1466.2 513.4,1469 518.7,1471.8 523.9,1474.6 529.2,1477.4 534.5,1480.1 539.8,1482.7 545,1485.3 550.3,1487.7 555.6,1490.1 560.9,1492.6 566.1,1495 571.4,1497.4 576.7,1499.9 582,1502.4 587.2,1505 592.5,1507.6 597.8,1510.1 603.1,1512.7 608.3,1515.2 613.6,1517.8 618.9,1520.4 624.2,1523 629.4,1525.6 634.7,1528.2 640,1530.8 645.3,1533.4 650.5,1535.9 655.8,1538.4 661.1,1540.8 666.4,1543.1 671.6,1545.3 676.9,1547.5 682.2,1549.6 687.5,1551.7 692.7,1553.8 698,1555.9 703.3,1558.1 708.6,1560.2 713.8,1562.3 719.1,1564.4 724.4,1566.4 729.7,1568.5 734.9,1570.5 740.2,1572.5 745.5,1574.5 750.8,1576.5 756,1578.5 761.3,1580.5 766.6,1582.6 771.9,1584.6 777.2,1586.7 782.4,1588.7 787.7,1590.7 793,1592.7 798.3,1594.6 803.5,1596.5 808.8,1598.4 814.1,1600.3 819.4,1602.2 824.6,1604 829.9,1605.8 835.2,1607.6 840.5,1609.4 845.7,1611.2 851,1612.9 856.3,1614.6 861.6,1616.3 866.8,1618 872.1,1619.7 877.4,1621.3 882.7,1622.9 887.9,1624.5 893.2,1626.1 898.5,1627.7 903.8,1629.2 909,1630.8 914.3,1632.3 919.6,1633.8 924.9,1635.2 930.1,1636.7 935.4,1638.1 940.7,1639.5 946,1640.9 951.2,1642.3 956.5,1643.7 961.8,1645.1 967.1,1646.4 972.3,1647.7 977.6,1649 982.9,1650.3 988.2,1651.6 993.4,1652.8 998.7,1654.1 1004,1655.3 1009.3,1656.5 1014.6,1657.7 1019.8,1658.9 1025.1,1660.1 1030.4,1661.2 1035.7,1662.4 1040.9,1663.5 1046.2,1664.6 1051.5,1665.7 1056.8,1666.8 1062,1667.8 1067.3,1668.9 1072.6,1669.9 1077.9,1671 1083.1,1672 1088.4,1673 1093.7,1674 1099,1674.9 1104.2,1675.9 1109.5,1676.9 1114.8,1677.8 1120.1,1678.7 1125.3,1679.7 1130.6,1680.6 1135.9,1681.5 1141.2,1682.3 1146.4,1683.2 1151.7,1684.1 1157,1684.9 1162.3,1685.8 1167.5,1686.6 1172.8,1687.4 1178.1,1688.2 1183.4,1689 1188.6,1689.8 1193.9,1690.6 1199.2,1691.4 1204.5,1692.2 1209.7,1692.9 1215,1693.7 1220.3,1694.4 1225.6,1695.1 1230.8,1695.8 1236.1,1696.6 1241.4,1697.3 1246.7,1698 1252,1698.6 1257.2,1699.3 1262.5,1700 1267.8,1700.7 1273.1,1701.3 1278.3,1702 1283.6,1702.6 1288.9,1703.3 1294.2,1703.9 1299.4,1704.5 1304.7,1705.1 1310,1705.8 1315.3,1706.4 1320.5,1707 1325.8,1707.6 1331.1,1708.2 1336.4,1708.7 1341.6,1709.3 1346.9,1709.9 1352.2,1710.5 1357.5,1711 1362.7,1711.6 1368,1712.2 1373.3,1712.7 1378.6,1713.3 1383.8,1713.8 1389.1,1714.4 1394.4,1714.9 1399.7,1715.4 1404.9,1716 1410.2,1716.5 1415.5,1717 1420.8,1717.6 1426,1718.1 1431.3,1718.6 1436.6,1719.1 1441.9,1719.6 1447.1,1720.2 1452.4,1720.7 1457.7,1721.2 1463,1721.7 1468.2,1722.2 1473.5,1722.7 1478.8,1723.1 1484.1,1723.6 1489.4,1724.1 1494.6,1724.6 1499.9,1725.1 1505.2,1725.6 1510.5,1726 1515.7,1726.5 1521,1727 1526.3,1727.4 1531.6,1727.9 1536.8,1728.3 1542.1,1728.8 1547.4,1729.2 1552.7,1729.7 1557.9,1730.1 1563.2,1730.5 1568.5,1731 1573.8,1731.4 1579,1731.8 1584.3,1732.3 1589.6,1732.7 1594.9,1733.1 1600.1,1733.5 1605.4,1733.9 1610.7,1734.3 1616,1734.7 1621.2,1735.1 1626.5,1735.5 1631.8,1735.9 1637.1,1736.3 1642.3,1736.7 1647.6,1737.1 1652.9,1737.4 1658.2,1737.8 1663.4,1738.2 1668.7,1738.5 1674,1738.9 1679.3,1739.3 1684.5,1739.6 1689.8,1740 1695.1,1740.3 1700.4,1740.6 1705.6,1741 1710.9,1741.3 1716.2,1741.6 1721.5,1742 1726.7,1742.3 1732,1742.6 1737.3,1742.9 1742.6,1743.2 1747.9,1743.5 1753.1,1743.8 1758.4,1744.1 1763.7,1744.4 1769,1744.7 1774.2,1745 1779.5,1745.3 1784.8,1745.6 1790.1,1745.8 1795.3,1746.1 1800.6,1746.4 1805.9,1746.6 1811.2,1746.9 1816.4,1747.1 1821.7,1747.4 1827,1747.6 1832.3,1747.9 1837.5,1748.1 1842.8,1748.3 1848.1,1748.6 1853.4,1748.8 1858.6,1749 1863.9,1749.2 1869.2,1749.4 1874.5,1749.6 1879.7,1749.8 1885,1750 1890.3,1750.2 1895.6,1750.4 1900.8,1750.6 1906.1,1750.8 1911.4,1750.9 1916.7,1751.1 1921.9,1751.3 1927.2,1751.4 1932.5,1751.6 1937.8,1751.7 1943,1751.9 1948.3,1752 1953.6,1752.2 1958.9,1752.3 1964.1,1752.4 1969.4,1752.5 1974.7,1752.7"/>
<polyline fill="none" stroke="#37AD6B" stroke-width="11" stroke-linejoin="round" points="397.3,1380.1 402.6,1383.7 407.9,1387.2 413.1,1390.8 418.4,1394.3 423.7,1397.9 429,1401.4 434.2,1404.9 439.5,1408.4 444.8,1411.9 450.1,1415.4 455.3,1418.9 460.6,1422.4 465.9,1425.9 471.2,1429.3 476.4,1432.7 481.7,1436.2 487,1439.6 492.3,1443 497.5,1446.4 502.8,1449.7 508.1,1453.1 513.4,1456.4 518.7,1459.8 523.9,1463.1 529.2,1466.3 534.5,1469.6 539.8,1472.8 545,1476.1 550.3,1479.3 555.6,1482.4 560.9,1485.6 566.1,1488.7 571.4,1491.8 576.7,1494.9 582,1498 587.2,1501 592.5,1504 597.8,1507 603.1,1509.9 608.3,1512.9 613.6,1515.8 618.9,1518.6 624.2,1521.4 629.4,1524.2 634.7,1527 640,1529.8 645.3,1532.5 650.5,1535.1 655.8,1537.8 661.1,1540.4 666.4,1543 671.6,1545.6 676.9,1548.1 682.2,1550.6 687.5,1553.1 692.7,1555.5 698,1558 703.3,1560.4 708.6,1562.7 713.8,1565.1 719.1,1567.4 724.4,1569.7 729.7,1572 734.9,1574.2 740.2,1576.4 745.5,1578.6 750.8,1580.8 756,1582.9 761.3,1585 766.6,1587.1 771.9,1589.2 777.2,1591.2 782.4,1593.2 787.7,1595.2 793,1597.2 798.3,1599.2 803.5,1601.1 808.8,1603 814.1,1604.9 819.4,1606.7 824.6,1608.6 829.9,1610.4 835.2,1612.2 840.5,1614 845.7,1615.7 851,1617.5 856.3,1619.2 861.6,1620.9 866.8,1622.6 872.1,1624.2 877.4,1625.9 882.7,1627.5 887.9,1629.1 893.2,1630.7 898.5,1632.2 903.8,1633.8 909,1635.3 914.3,1636.8 919.6,1638.3 924.9,1639.8 930.1,1641.2 935.4,1642.7 940.7,1644.1 946,1645.5 951.2,1646.9 956.5,1648.3 961.8,1649.6 967.1,1650.9 972.3,1652.3 977.6,1653.6 982.9,1654.9 988.2,1656.1 993.4,1657.4 998.7,1658.6 1004,1659.9 1009.3,1661.1 1014.6,1662.3 1019.8,1663.5 1025.1,1664.6 1030.4,1665.8 1035.7,1666.9 1040.9,1668 1046.2,1669.1 1051.5,1670.2 1056.8,1671.3 1062,1672.4 1067.3,1673.4 1072.6,1674.5 1077.9,1675.5 1083.1,1676.5 1088.4,1677.5 1093.7,1678.5 1099,1679.5 1104.2,1680.5 1109.5,1681.4 1114.8,1682.4 1120.1,1683.3 1125.3,1684.2 1130.6,1685.1 1135.9,1686 1141.2,1686.9 1146.4,1687.8 1151.7,1688.6 1157,1689.5 1162.3,1690.3 1167.5,1691.2 1172.8,1692 1178.1,1692.8 1183.4,1693.6 1188.6,1694.4 1193.9,1695.2 1199.2,1695.9 1204.5,1696.7 1209.7,1697.5 1215,1698.2 1220.3,1698.9 1225.6,1699.7 1230.8,1700.4 1236.1,1701.1 1241.4,1701.8 1246.7,1702.5 1252,1703.2 1257.2,1703.9 1262.5,1704.6 1267.8,1705.2 1273.1,1705.9 1278.3,1706.5 1283.6,1707.2 1288.9,1707.8 1294.2,1708.4 1299.4,1709.1 1304.7,1709.7 1310,1710.3 1315.3,1710.9 1320.5,1711.5 1325.8,1712.1 1331.1,1712.7 1336.4,1713.3 1341.6,1713.9 1346.9,1714.5 1352.2,1715 1357.5,1715.6 1362.7,1716.2 1368,1716.7 1373.3,1717.3 1378.6,1717.8 1383.8,1718.4 1389.1,1718.9 1394.4,1719.5 1399.7,1720 1404.9,1720.5 1410.2,1721.1 1415.5,1721.6 1420.8,1722.1 1426,1722.6 1431.3,1723.2 1436.6,1723.7 1441.9,1724.2 1447.1,1724.7 1452.4,1725.2 1457.7,1725.7 1463,1726.2 1468.2,1726.7 1473.5,1727.2 1478.8,1727.7 1484.1,1728.2 1489.4,1728.7 1494.6,1729.2 1499.9,1729.6 1505.2,1730.1 1510.5,1730.6 1515.7,1731 1521,1731.5 1526.3,1732 1531.6,1732.4 1536.8,1732.9 1542.1,1733.3 1547.4,1733.8 1552.7,1734.2 1557.9,1734.7 1563.2,1735.1 1568.5,1735.5 1573.8,1736 1579,1736.4 1584.3,1736.8 1589.6,1737.2 1594.9,1737.7 1600.1,1738.1 1605.4,1738.5 1610.7,1738.9 1616,1739.3 1621.2,1739.7 1626.5,1740.1 1631.8,1740.5 1637.1,1740.8 1642.3,1741.2 1647.6,1741.6 1652.9,1742 1658.2,1742.4 1663.4,1742.7 1668.7,1743.1 1674,1743.5 1679.3,1743.8 1684.5,1744.2 1689.8,1744.5 1695.1,1744.9 1700.4,1745.2 1705.6,1745.5 1710.9,1745.9 1716.2,1746.2 1721.5,1746.5 1726.7,1746.8 1732,1747.2 1737.3,1747.5 1742.6,1747.8 1747.9,1748.1 1753.1,1748.4 1758.4,1748.7 1763.7,1749 1769,1749.3 1774.2,1749.6 1779.5,1749.8 1784.8,1750.1 1790.1,1750.4 1795.3,1750.7 1800.6,1750.9 1805.9,1751.2 1811.2,1751.4 1816.4,1751.7 1821.7,1751.9 1827,1752.2 1832.3,1752.4 1837.5,1752.7 1842.8,1752.9 1848.1,1753.1 1853.4,1753.3 1858.6,1753.6 1863.9,1753.8 1869.2,1754 1874.5,1754.2 1879.7,1754.4 1885,1754.6 1890.3,1754.8 1895.6,1755 1900.8,1755.1 1906.1,1755.3 1911.4,1755.5 1916.7,1755.7 1921.9,1755.8 1927.2,1756 1932.5,1756.1 1937.8,1756.3 1943,1756.4 1948.3,1756.6 1953.6,1756.7 1958.9,1756.8 1964.1,1757 1969.4,1757.1 1974.7,1757.2"/>
<polyline fill="none" stroke="#515151" stroke-width="9" stroke-linejoin="round" points="398.4,2041.4 403.7,2051.2 408.9,2060.1 414.2,2068.4 419.5,2075.9 424.7,2082.8 430,2089.2 435.3,2094.9 440.5,2100.2 445.8,2105 451.1,2109.3 456.4,2113.3 461.6,2117 466.9,2120.4 472.2,2123.5 477.4,2126.4 482.7,2129.2 488,2131.9 493.2,2134.4 498.5,2136.9 503.8,2139.2 509,2141.4 514.3,2143.6 519.6,2145.6 524.8,2147.6 530.1,2149.4 535.4,2151.2 540.6,2152.9 545.9,2154.6 551.2,2156.1 556.4,2157.6 561.7,2159 567,2160.3 572.3,2161.6 577.5,2162.9 582.8,2164 588.1,2165.2 593.3,2166.2 598.6,2167.3 603.9,2168.3 609.1,2169.2 614.4,2170.2 619.7,2171 624.9,2171.9 630.2,2172.8 635.5,2173.6 640.7,2174.4 646,2175.2 651.3,2175.9 656.5,2176.7 661.8,2177.5 667.1,2178.2 672.4,2178.9 677.6,2179.6 682.9,2180.3 688.2,2181 693.4,2181.7 698.7,2182.4 704,2183 709.2,2183.6 714.5,2184.3 719.8,2184.9 725,2185.5 730.3,2186.1 735.6,2186.7 740.8,2187.2 746.1,2187.8 751.4,2188.3 756.6,2188.9 761.9,2189.4 767.2,2189.9 772.4,2190.4 777.7,2190.9 783,2191.4 788.3,2191.9 793.5,2192.3 798.8,2192.8 804.1,2193.2 809.3,2193.7 814.6,2194.1 819.9,2194.5 825.1,2194.9 830.4,2195.3 835.7,2195.7 840.9,2196.1 846.2,2196.5 851.5,2196.8 856.7,2197.2 862,2197.5 867.3,2197.9 872.5,2198.2 877.8,2198.5 883.1,2198.8 888.4,2199.2 893.6,2199.5 898.9,2199.8 904.2,2200 909.4,2200.3 914.7,2200.6 920,2200.9 925.2,2201.1 930.5,2201.4 935.8,2201.6 941,2201.9 946.3,2202.1 951.6,2202.3 956.8,2202.6 962.1,2202.8 967.4,2203 972.6,2203.2 977.9,2203.4 983.2,2203.6 988.4,2203.8 993.7,2204 999,2204.2 1004.3,2204.4 1009.5,2204.6 1014.8,2204.7 1020.1,2204.9 1025.3,2205.1 1030.6,2205.2 1035.9,2205.4 1041.1,2205.5 1046.4,2205.7 1051.7,2205.9 1056.9,2206 1062.2,2206.1 1067.5,2206.3 1072.7,2206.4 1078,2206.5 1083.3,2206.7 1088.5,2206.8 1093.8,2206.9 1099.1,2207 1104.3,2207.2 1109.6,2207.3 1114.9,2207.4 1120.2,2207.5 1125.4,2207.6 1130.7,2207.7 1136,2207.8 1141.2,2207.9 1146.5,2208 1151.8,2208.1 1157,2208.2 1162.3,2208.3 1167.6,2208.4 1172.8,2208.5 1178.1,2208.5 1183.4,2208.6 1188.6,2208.7 1193.9,2208.8 1199.2,2208.8 1204.4,2208.9 1209.7,2209 1215,2209 1220.3,2209.1 1225.5,2209.2 1230.8,2209.2 1236.1,2209.3 1241.3,2209.3 1246.6,2209.4 1251.9,2209.4 1257.1,2209.5 1262.4,2209.5 1267.7,2209.6 1272.9,2209.6 1278.2,2209.7 1283.5,2209.7 1288.7,2209.8 1294,2209.8 1299.3,2209.8 1304.5,2209.9 1309.8,2209.9 1315.1,2209.9 1320.3,2210 1325.6,2210 1330.9,2210 1336.2,2210 1341.4,2210.1 1346.7,2210.1 1352,2210.1 1357.2,2210.1 1362.5,2210.2 1367.8,2210.2 1373,2210.2 1378.3,2210.2 1383.6,2210.2 1388.8,2210.3 1394.1,2210.3 1399.4,2210.3 1404.6,2210.3 1409.9,2210.3 1415.2,2210.3 1420.4,2210.3 1425.7,2210.4 1431,2210.4 1436.2,2210.4 1441.5,2210.4 1446.8,2210.4 1452.1,2210.4 1457.3,2210.4 1462.6,2210.4 1467.9,2210.4 1473.1,2210.4 1478.4,2210.4 1483.7,2210.4 1488.9,2210.5 1494.2,2210.5 1499.5,2210.5 1504.7,2210.5 1510,2210.5 1515.3,2210.5 1520.5,2210.5 1525.8,2210.5 1531.1,2210.5 1536.3,2210.5 1541.6,2210.5 1546.9,2210.5 1552.2,2210.5 1557.4,2210.5 1562.7,2210.6 1568,2210.6 1573.2,2210.6 1578.5,2210.6 1583.8,2210.6 1589,2210.6 1594.3,2210.6 1599.6,2210.6 1604.8,2210.6 1610.1,2210.7 1615.4,2210.7 1620.6,2210.7 1625.9,2210.7 1631.2,2210.7 1636.4,2210.7 1641.7,2210.8 1647,2210.8 1652.2,2210.8 1657.5,2210.8 1662.8,2210.8 1668.1,2210.9 1673.3,2210.9 1678.6,2210.9 1683.9,2210.9 1689.1,2211 1694.4,2211 1699.7,2211 1704.9,2211.1 1710.2,2211.1 1715.5,2211.1 1720.7,2211.2 1726,2211.2 1731.3,2211.2 1736.5,2211.3 1741.8,2211.3 1747.1,2211.4 1752.3,2211.4 1757.6,2211.5 1762.9,2211.5 1768.1,2211.6 1773.4,2211.6 1778.7,2211.7 1784,2211.7 1789.2,2211.8 1794.5,2211.9 1799.8,2211.9 1805,2212 1810.3,2212.1 1815.6,2212.1 1820.8,2212.2 1826.1,2212.3 1831.4,2212.3 1836.6,2212.4 1841.9,2212.5 1847.2,2212.6 1852.4,2212.7 1857.7,2212.8 1863,2212.9 1868.2,2213 1873.5,2213 1878.8,2213.1 1884.1,2213.2 1889.3,2213.4 1894.6,2213.5 1899.9,2213.6 1905.1,2213.7 1910.4,2213.8 1915.7,2213.9 1920.9,2214 1926.2,2214.2 1931.5,2214.3 1936.7,2214.4 1942,2214.5 1947.3,2214.7 1952.5,2214.8 1957.8,2215 1963.1,2215.1 1968.3,2215.3 1973.6,2215.4"/>
<polyline fill="none" stroke="#F14040" stroke-width="9" stroke-linejoin="round" points="366.4,1945.5 371.8,1956.2 377.1,1967.1 382.5,1978.3 387.9,1989.4 393.3,2000.3 398.6,2011 404,2021.2 409.4,2030.8 414.8,2039.7 420.1,2048 425.5,2055.6 430.9,2062.6 436.3,2069.1 441.6,2075.1 447,2080.7 452.4,2085.9 457.8,2090.7 463.1,2095.3 468.5,2099.6 473.9,2103.6 479.3,2107.4 484.6,2111 490,2114.4 495.4,2117.5 500.8,2120.5 506.1,2123.3 511.5,2125.9 516.9,2128.3 522.3,2130.6 527.6,2132.8 533,2134.8 538.4,2136.7 543.8,2138.4 549.2,2140.1 554.5,2141.7 559.9,2143.2 565.3,2144.6 570.7,2145.9 576,2147.2 581.4,2148.5 586.8,2149.7 592.2,2150.9 597.5,2152.1 602.9,2153.3 608.3,2154.4 613.7,2155.5 619,2156.6 624.4,2157.7 629.8,2158.8 635.2,2159.8 640.5,2160.8 645.9,2161.8 651.3,2162.7 656.7,2163.7 662,2164.6 667.4,2165.5 672.8,2166.4 678.2,2167.3 683.5,2168.1 688.9,2168.9 694.3,2169.7 699.7,2170.5 705,2171.3 710.4,2172 715.8,2172.8 721.2,2173.5 726.5,2174.2 731.9,2174.9 737.3,2175.6 742.7,2176.2 748,2176.8 753.4,2177.5 758.8,2178.1 764.2,2178.6 769.5,2179.2 774.9,2179.8 780.3,2180.3 785.7,2180.9 791,2181.4 796.4,2181.9 801.8,2182.4 807.2,2182.8 812.5,2183.3 817.9,2183.8 823.3,2184.2 828.7,2184.6 834,2185 839.4,2185.5 844.8,2185.8 850.2,2186.2 855.5,2186.6 860.9,2187 866.3,2187.3 871.7,2187.7 877,2188 882.4,2188.3 887.8,2188.6 893.2,2188.9 898.5,2189.2 903.9,2189.5 909.3,2189.8 914.7,2190.1 920,2190.3 925.4,2190.6 930.8,2190.9 936.2,2191.1 941.5,2191.3 946.9,2191.6 952.3,2191.8 957.7,2192 963.1,2192.2 968.4,2192.5 973.8,2192.7 979.2,2192.9 984.6,2193.1 989.9,2193.3 995.3,2193.5 1000.7,2193.6 1006.1,2193.8 1011.4,2194 1016.8,2194.2 1022.2,2194.4 1027.6,2194.6 1032.9,2194.7 1038.3,2194.9 1043.7,2195.1 1049.1,2195.2 1054.4,2195.4 1059.8,2195.6 1065.2,2195.8 1070.6,2195.9 1075.9,2196.1 1081.3,2196.3 1086.7,2196.4 1092.1,2196.6 1097.4,2196.7 1102.8,2196.9 1108.2,2197.1 1113.6,2197.2 1118.9,2197.4 1124.3,2197.5 1129.7,2197.7 1135.1,2197.8 1140.4,2198 1145.8,2198.2 1151.2,2198.3 1156.6,2198.5 1161.9,2198.6 1167.3,2198.8 1172.7,2198.9 1178.1,2199 1183.4,2199.2 1188.8,2199.3 1194.2,2199.5 1199.6,2199.6 1204.9,2199.8 1210.3,2199.9 1215.7,2200.1 1221.1,2200.2 1226.4,2200.3 1231.8,2200.5 1237.2,2200.6 1242.6,2200.7 1247.9,2200.9 1253.3,2201 1258.7,2201.1 1264.1,2201.3 1269.4,2201.4 1274.8,2201.5 1280.2,2201.7 1285.6,2201.8 1290.9,2201.9 1296.3,2202 1301.7,2202.2 1307.1,2202.3 1312.4,2202.4 1317.8,2202.5 1323.2,2202.7 1328.6,2202.8 1333.9,2202.9 1339.3,2203 1344.7,2203.2 1350.1,2203.3 1355.4,2203.4 1360.8,2203.5 1366.2,2203.6 1371.6,2203.7 1377,2203.9 1382.3,2204 1387.7,2204.1 1393.1,2204.2 1398.5,2204.3 1403.8,2204.4 1409.2,2204.5 1414.6,2204.6 1420,2204.7 1425.3,2204.9 1430.7,2205 1436.1,2205.1 1441.5,2205.2 1446.8,2205.3 1452.2,2205.4 1457.6,2205.5 1463,2205.6 1468.3,2205.7 1473.7,2205.8 1479.1,2205.9 1484.5,2206 1489.8,2206.1 1495.2,2206.2 1500.6,2206.3 1506,2206.4 1511.3,2206.5 1516.7,2206.6 1522.1,2206.7 1527.5,2206.8 1532.8,2206.9 1538.2,2207 1543.6,2207.1 1549,2207.2 1554.3,2207.3 1559.7,2207.3 1565.1,2207.4 1570.5,2207.5 1575.8,2207.6 1581.2,2207.7 1586.6,2207.8 1592,2207.9 1597.3,2208 1602.7,2208.1 1608.1,2208.2 1613.5,2208.2 1618.8,2208.3 1624.2,2208.4 1629.6,2208.5 1635,2208.6 1640.3,2208.7 1645.7,2208.7 1651.1,2208.8 1656.5,2208.9 1661.8,2209 1667.2,2209.1 1672.6,2209.2 1678,2209.2 1683.3,2209.3 1688.7,2209.4 1694.1,2209.5 1699.5,2209.6 1704.8,2209.6 1710.2,2209.7 1715.6,2209.8 1721,2209.9 1726.3,2209.9 1731.7,2210 1737.1,2210.1 1742.5,2210.2 1747.8,2210.2 1753.2,2210.3 1758.6,2210.4 1764,2210.5 1769.3,2210.5 1774.7,2210.6 1780.1,2210.7 1785.5,2210.8 1790.9,2210.8 1796.2,2210.9 1801.6,2211 1807,2211 1812.4,2211.1 1817.7,2211.2 1823.1,2211.3 1828.5,2211.3 1833.9,2211.4 1839.2,2211.5 1844.6,2211.5 1850,2211.6 1855.4,2211.7 1860.7,2211.7 1866.1,2211.8 1871.5,2211.9 1876.9,2211.9 1882.2,2212 1887.6,2212.1 1893,2212.1 1898.4,2212.2 1903.7,2212.3 1909.1,2212.3 1914.5,2212.4 1919.9,2212.5 1925.2,2212.5 1930.6,2212.6 1936,2212.7 1941.4,2212.7 1946.7,2212.8 1952.1,2212.8 1957.5,2212.9 1962.9,2213 1968.2,2213 1973.6,2213.1"/>
</g>
<defs><clipPath id="clipa"><rect x="330.5" y="50" width="1645" height="971"/></clipPath>
<clipPath id="clipb"><rect x="330.5" y="1295.5" width="1645" height="971"/></clipPath></defs>
</svg>
</body></html>
